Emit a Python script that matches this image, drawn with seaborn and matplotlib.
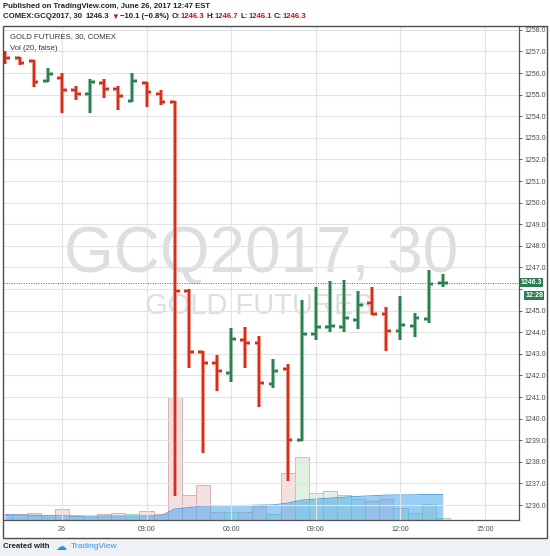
import matplotlib
matplotlib.use("Agg")
import matplotlib.pyplot as plt
import matplotlib.patches as mpatches
import matplotlib.transforms as mtrans
import numpy as np
import seaborn as sns

# 30-minute bars, GCQ2017, evening of June 25 to afternoon of June 26 (EST)
times = ["22:00", "22:30", "23:00", "23:30", "00:00", "00:30", "01:00", "01:30",
         "02:00", "02:30", "03:00", "03:30", "04:00", "04:30", "05:00", "05:30",
         "06:00", "06:30", "07:00", "07:30", "08:00", "08:30", "09:00", "09:30",
         "10:00", "10:30", "11:00", "11:30", "12:00", "12:30", "13:00", "13:30"]
opens = [1256.9, 1256.7, 1256.55, 1255.62, 1255.75, 1255.2, 1255.05, 1255.55,
         1255.25, 1254.7, 1255.55, 1255.05, 1254.65, 1245.9, 1243.1, 1242.6,
         1242.1, 1243.65, 1243.5, 1241.6, 1242.3, 1239.0, 1243.9, 1244.25,
         1244.25, 1244.55, 1245.35, 1244.85, 1244.05, 1244.3, 1244.6, 1246.3]
highs = [1257.0, 1256.75, 1256.6, 1256.25, 1256.0, 1255.4, 1255.7, 1255.7,
         1255.4, 1256.0, 1255.6, 1255.2, 1254.7, 1246.0, 1243.15, 1242.95,
         1244.2, 1244.25, 1243.85, 1242.75, 1242.55, 1245.5, 1246.1, 1246.35,
         1246.4, 1245.9, 1246.1, 1245.15, 1245.7, 1244.9, 1246.9, 1246.7]
lows = [1256.4, 1256.35, 1255.35, 1255.6, 1254.15, 1254.75, 1254.15, 1254.85,
        1254.3, 1254.65, 1254.45, 1254.5, 1236.4, 1242.35, 1238.4, 1241.3,
        1241.7, 1242.35, 1240.55, 1241.4, 1237.1, 1238.95, 1243.65, 1244.0,
        1244.0, 1244.15, 1244.8, 1243.15, 1243.65, 1243.8, 1244.45, 1246.1]
closes = [1256.7, 1256.45, 1255.6, 1255.95, 1255.2, 1255.05, 1255.6, 1255.25,
          1254.95, 1255.65, 1255.1, 1254.65, 1245.9, 1243.1, 1242.6, 1242.2,
          1243.7, 1243.5, 1241.65, 1242.2, 1239.0, 1243.9, 1244.25, 1244.27,
          1244.65, 1245.25, 1244.85, 1244.05, 1244.35, 1244.65, 1246.25, 1246.3]
volume = [200, 240, 270, 110, 430, 160, 130, 240, 270, 240, 350, 240,
          4930, 1000, 1400, 320, 320, 320, 560, 240, 1870, 2530, 1070, 1160,
          1020, 840, 760, 840, 480, 290, 650, 100]
vol_ma = [220, 200, 190, 180, 170, 165, 160, 160, 160, 160, 165, 170,
          440, 500, 560, 570, 580, 585, 600, 610, 680, 800, 840, 880,
          920, 950, 975, 1000, 1010, 1010, 1030, 1025]

xtick_pos = [0, 3, 6, 9, 12, 15]
xtick_labels = ["26", "03:00", "06:00", "09:00", "12:00", "15:00"]
price_ticks = list(range(1236, 1259))
last_price = 1246.3

RED, RED_HALO = "#d22f1e", "#f0a49a"
GREEN, GREEN_HALO = "#2f7d52", "#9fcbb0"
TEXT = "#4a4a4a"

sns.set_theme(style="white")
plt.rcParams["font.family"] = ["Liberation Sans", "DejaVu Sans"]

W, H = 550, 556
fig = plt.figure(figsize=(W / 100, H / 100), dpi=100, facecolor="white")


def fx(px):
    return px / W


def fy(py):
    return 1 - py / H


hrs = []
for t in times:
    h, m = t.split(":")
    v = int(h) + int(m) / 60
    hrs.append(v - 24 if v >= 18 else v)
hrs = np.array(hrs)
o, hi, lo, c = map(np.array, (opens, highs, lows, closes))
up = c >= o

rect = [fx(4), fy(520), (519 - 4) / W, (520 - 27) / H]
xlim = (-2.05, 16.2)

# volume pane sits behind the price bars
axv = fig.add_axes(rect, zorder=1)
axv.set_facecolor("white")
axv.bar(hrs, volume, width=0.5,
        color=np.where(up, "#e0f0e2", "#f4e0e0"),
        edgecolor=np.where(up, "#a9d4b0", "#dcb0b0"), linewidth=0.7)
axv.fill_between(hrs, vol_ma, color="#4aa6ee", alpha=0.55, lw=0)
sns.lineplot(x=hrs, y=vol_ma, ax=axv, color="#3b98e0", lw=0.6)
axv.set_xlim(xlim)
axv.set_ylim(0, 19800)
axv.set_xticks([])
axv.set_yticks([])
for s in axv.spines.values():
    s.set_visible(False)

ax = fig.add_axes(rect, zorder=2)
ax.set_facecolor("none")
ax.set_xlim(xlim)
ax.set_ylim(1235.31, 1258.13)

# watermark
ax.text(0.5, 0.538, "GCQ2017, 30", transform=ax.transAxes, fontsize=46,
        color="#dedede", ha="center", va="center", zorder=0.5)
ax.text(0.495, 0.434, "GOLD FUTURES", transform=ax.transAxes, fontsize=21,
        color="#dedede", ha="center", va="center", zorder=0.5)

# the 1246.0 label sits under the last-price tag
ax.set_yticks(price_ticks)
ax.set_yticklabels(["" if v == 1246 else f"{v:.1f}" for v in price_ticks])
ax.set_xticks(xtick_pos)
ax.set_xticklabels(xtick_labels)
ax.grid(True, color="#e3e3e3", lw=0.8, zorder=0)
ax.yaxis.tick_right()
ax.tick_params(axis="y", labelsize=5, colors=TEXT, length=2.5, width=0.6, pad=1.5)
ax.tick_params(axis="x", labelsize=5, colors=TEXT, length=0, pad=4)
for side in ["left", "top"]:
    ax.spines[side].set_visible(False)
for side in ["right", "bottom"]:
    ax.spines[side].set_color("#555555")
    ax.spines[side].set_linewidth(0.9)

# OHLC bars
tick = 0.17
for lw, pick in [(3.0, 1), (1.6, 0)]:
    for mask, cols in [(up, (GREEN, GREEN_HALO)), (~up, (RED, RED_HALO))]:
        col = cols[pick]
        ax.vlines(hrs[mask], lo[mask], hi[mask], color=col, lw=lw, zorder=3)
        ax.hlines(o[mask], hrs[mask] - tick, hrs[mask], color=col, lw=lw, zorder=3)
        ax.hlines(c[mask], hrs[mask], hrs[mask] + tick, color=col, lw=lw, zorder=3)

ax.axhline(last_price, color=GREEN, ls=(0, (1, 1.5)), lw=0.7, zorder=2.5)
tr = mtrans.blended_transform_factory(ax.transAxes, ax.transData)
ax.text(1.004, last_price, "1246.3", transform=tr, fontsize=5, color="white",
        weight="bold", va="center", ha="left", clip_on=False,
        bbox=dict(boxstyle="square,pad=0.15", fc=GREEN, ec="none"))
ax.text(1.012, last_price - 0.6, "12:28", transform=tr, fontsize=5, color="white",
        weight="bold", va="center", ha="left", clip_on=False,
        bbox=dict(boxstyle="square,pad=0.15", fc=GREEN, ec="none"))

fig.text(fx(10), fy(37), "GOLD FUTURES, 30, COMEX", fontsize=5.6, color="#333333", va="center")
fig.text(fx(10), fy(48.5), "Vol (20, false)", fontsize=5.6, color="#333333", va="center")

# chart frame and footer
fig.add_artist(mpatches.Rectangle((fx(3), fy(538)), (547 - 3) / W, (538 - 26) / H,
                                  transform=fig.transFigure, fill=False,
                                  ec="#4d4d4d", lw=1.0, zorder=5))
fig.add_artist(mpatches.Rectangle((0, 0), 1, fy(539), transform=fig.transFigure,
                                  fc="#eef1f6", ec="none", zorder=0))

renderer = fig.canvas.get_renderer()
inv = fig.transFigure.inverted()


def chain(parts, x_px, y_px, size):
    x = fx(x_px)
    for s, col, gap in parts:
        t = fig.text(x, fy(y_px), s, fontsize=size, color=col, weight="bold", va="center")
        bb = t.get_window_extent(renderer)
        x = inv.transform((bb.x1 + gap, 0))[0]


fig.text(fx(3), fy(6), "Published on TradingView.com, June 26, 2017 12:47 EST",
         fontsize=5.6, color="#222222", weight="bold", va="center")
DARKRED = "#b3191b"
chain([("COMEX:GCQ2017, 30", "#222222", 4), ("1246.3", "#222222", 1.5),
       ("▼", DARKRED, 1.5), ("−10.1 (−0.8%)", "#222222", 2),
       ("O:", "#222222", 0.5), ("1246.3", DARKRED, 2),
       ("H:", "#222222", 0.5), ("1246.7", DARKRED, 2),
       ("L:", "#222222", 0.5), ("1246.1", DARKRED, 2),
       ("C:", "#222222", 0.5), ("1246.3", DARKRED, 2)], 3, 17, 5.6)

fig.text(fx(3), fy(546.5), "Created with", fontsize=5.6, color="#222222",
         weight="bold", va="center")
fig.text(fx(55), fy(546.5), "☁", fontsize=8, color="#2a95e8", va="center",
         family="DejaVu Sans")
fig.text(fx(71), fy(546.5), "TradingView", fontsize=6, color="#2a95e8", va="center")

fig.savefig("out.png", dpi=100, facecolor=fig.get_facecolor())
